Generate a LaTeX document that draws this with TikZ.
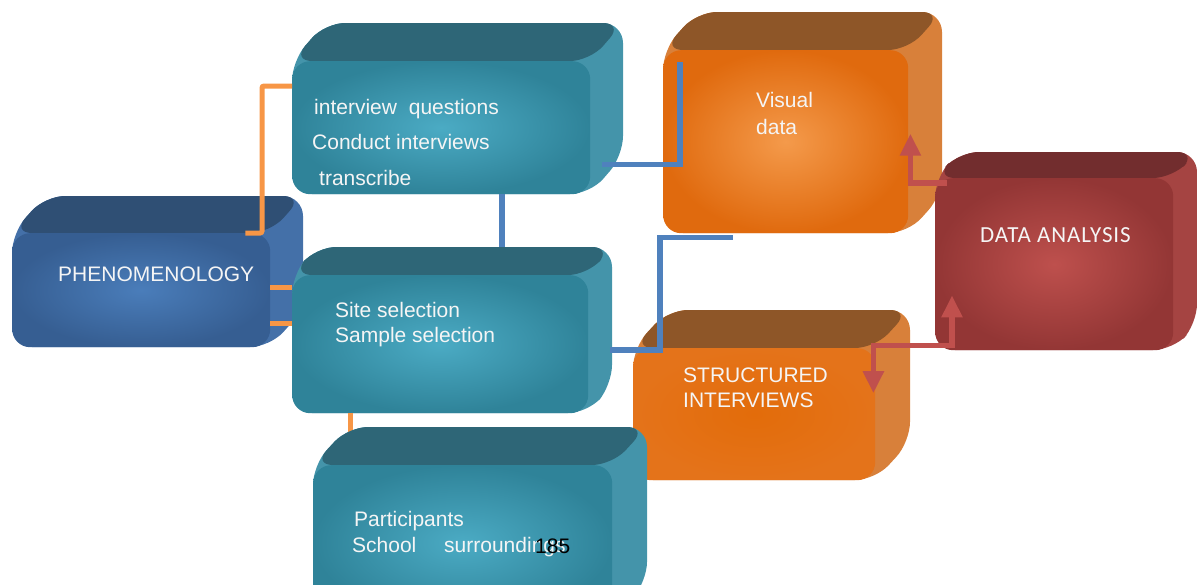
\documentclass[tikz,border=0pt]{standalone}
\usepackage{fontspec}
\setmainfont{Liberation Sans}
\newfontfamily\calibfont[LetterSpace=4]{Carlito}
\usetikzlibrary{arrows.meta}
\definecolor{tealin}{HTML}{4BABC4}
\definecolor{tealout}{HTML}{2F8399}
\definecolor{tealtop}{HTML}{2E6677}
\definecolor{tealside}{HTML}{4494AA}
\definecolor{navyin}{HTML}{4A7DBA}
\definecolor{navyout}{HTML}{365E92}
\definecolor{navytop}{HTML}{2F4F74}
\definecolor{navyside}{HTML}{4470A8}
\definecolor{amberin}{HTML}{F49A4B}
\definecolor{amberout}{HTML}{E06A0E}
\definecolor{ambertop}{HTML}{8E5628}
\definecolor{amberside}{HTML}{D8803A}
\definecolor{flatin}{HTML}{E36C0A}
\definecolor{flatout}{HTML}{E4731A}
\definecolor{flattop}{HTML}{8E5628}
\definecolor{flatside}{HTML}{D8803A}
\definecolor{winein}{HTML}{BE504D}
\definecolor{wineout}{HTML}{933635}
\definecolor{winetop}{HTML}{722D2E}
\definecolor{wineside}{HTML}{A54442}
\definecolor{linkorange}{HTML}{F79646}
\definecolor{linkblue}{HTML}{4F81BD}
\definecolor{linkred}{HTML}{C0504D}
\tikzset{boxtext/.style={text=white!96!black, anchor=base west, align=left, inner sep=0pt, font=\fontsize{21}{25}\selectfont},
  front/.style={rounded corners=18pt, inner color=#1in, outer color=#1out, anchor=north west, inner sep=0pt},
  orangeline/.style={draw=linkorange, line width=5pt, rounded corners=2pt},
  blueline/.style={draw=linkblue, line width=5.5pt},
  redtip/.style={Triangle[width=20pt,length=22pt]},
  redarrow/.style={draw=linkred, line width=5.5pt, -{Triangle[width=20pt,length=22pt]}}}
\newcommand{\block}[8]{%
  \fill[#2side, rounded corners=20pt] (#3,#4) -- ({#3+#7},{#4-#8}) -- ({#5+#7},{#4-#8}) -- ({#5+#7},{#6-#8}) -- (#5,#6) -- (#3,#6) -- cycle;
  \fill[#2top, rounded corners=20pt] (#3,#4) -- ({#3+#7},{#4-#8}) -- ({#5+#7},{#4-#8}) -- (#5,#4) -- cycle;
  \node[front=#2, minimum width={(#5-#3)*1pt}, minimum height={(#6-#4)*1pt}] (#1) at (#3,#4) {};}

\begin{document}
\begin{tikzpicture}[x=1pt, y=-1pt]
\useasboundingbox (0,0) rectangle (1197,584);
\block{phen}{navy}{12}{233}{270}{347}{33}{37}
\node[boxtext] (phenlabel) at (58,281) {PHENOMENOLOGY};

\block{interview}{teal}{292}{61}{590}{194}{33}{38}
\node[boxtext, font=\fontsize{21}{35.5}\selectfont] (interviewlabel) at (312,185) {\hspace{2pt}interview\hspace{6pt} questions\\Conduct interviews\\\hspace{7pt}transcribe};

\block{site}{teal}{292}{275}{588}{413}{24}{28}
\node[boxtext] (sitelabel) at (335,342) {Site selection\\Sample selection};
\draw[blueline] ([xshift=61pt]interview.south) -- ([xshift=61pt,yshift=28pt]interview.south |- site.north);
\draw[orangeline] ([yshift=3pt]phen.east) -- ([yshift=3pt]phen.east -| site.west);
\draw[orangeline] ([yshift=-33pt]phen.east) -- ([yshift=-33pt]phen.east -| site.west);

\block{visual}{amber}{663}{50}{908}{233}{34}{38}
\node[boxtext, font=\fontsize{21}{27}\selectfont] (visuallabel) at (756,134) {Visual\\data};

\block{structured}{flat}{633}{348}{875}{480}{35}{38}
\node[boxtext] (structuredlabel) at (683,407) {STRUCTURED\\INTERVIEWS};

\block{analysis}{wine}{935}{178}{1173}{350}{24}{26}
\node[boxtext, font=\calibfont\fontsize{23}{25}\selectfont] (analysislabel) at (980,242) {DATA ANALYSIS};

\draw[orangeline] ([xshift=58pt]site.south west) -- ++(0,55);
\block{parti}{teal}{313}{465}{612}{620}{35}{38}
\node[boxtext, font=\fontsize{21}{26}\selectfont] (partilabel) at (354,552) {Participants\\\hspace{-2pt}School\hspace{22pt} surroundings};
\node[boxtext, text=black] (pagenum) at (535,553) {185};

\draw[blueline] ([xshift=12pt,yshift=-37pt]interview.east) -| ([xshift=17pt,yshift=-12pt]visual.north west);
\draw[blueline] ([xshift=22pt,yshift=-6pt]site.east) -| ([xshift=-3pt,yshift=-4pt]visual.south west) -- ([xshift=70pt,yshift=-4pt]visual.south west);
\draw[orangeline] ([xshift=-25pt]phen.north east) -| ([xshift=-30pt,yshift=-25pt]interview.north west) -- ([yshift=-25pt]interview.north west);
\draw[redarrow] ([xshift=12pt,yshift=-5pt]analysis.north west) -| ([xshift=2pt,yshift=8pt]visual.east);
\draw[redarrow, {Triangle[width=20pt,length=22pt]}-{Triangle[width=20pt,length=22pt]}] ([xshift=-2pt,yshift=21pt]structured.east) |- ([xshift=17pt,yshift=5pt]analysis.south west) -- ([xshift=17pt,yshift=55pt]analysis.south west);
\end{tikzpicture}
\end{document}
